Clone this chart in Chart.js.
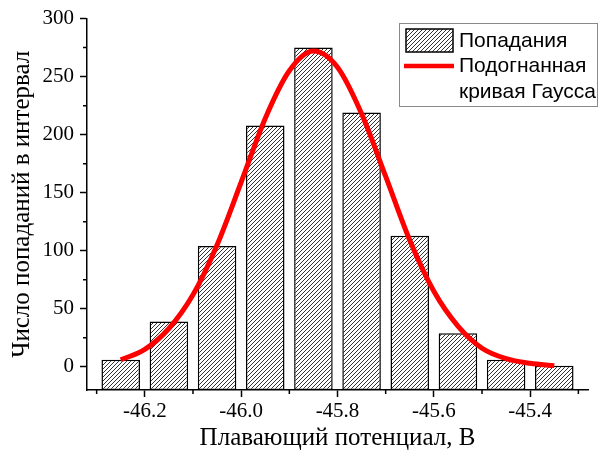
<!DOCTYPE html>
<html>
<head>
<meta charset="utf-8">
<script src="https://cdn.jsdelivr.net/npm/chart.js@4.4.1/dist/chart.umd.min.js"></script>
<style>
    body { margin: 0; background: #fff; }
    #wrap { width: 599px; height: 454px; }
</style>
</head>
<body>
<div id="wrap"><canvas id="histChart" width="599" height="454"></canvas></div>
<script>
// bin centres, В
const binCenters = [-46.25, -46.15, -46.05, -45.95, -45.85, -45.75, -45.65, -45.55, -45.45, -45.35];
// hits per bin
const counts = [6, 39, 104, 208, 275, 219, 113, 29, 6, 1];

// fitted gauss curve
const fitX = [-46.25, -46.20, -46.15, -46.10, -46.05, -46.00, -45.95, -45.90, -45.85, -45.80,
              -45.75, -45.70, -45.65, -45.60, -45.55, -45.50, -45.45, -45.40, -45.35];
const fitY = [6, 15, 33, 62, 105, 159, 214, 255, 272, 258, 218, 164, 109, 65, 35, 16, 7, 3, 1];

const legendLabels = ["Попадания", "Подогнанная", "кривая Гаусса"];
const xTitle = "Плавающий потенциал, В";
const yTitle = "Число попаданий в интервал";

const xMin = -46.32, xMax = -45.28, xStep = 0.2;
const yMin = -20, yMax = 300, yStep = 50;

function makeHatch() {
    const s = 4;
    const c = document.createElement('canvas');
    c.width = s; c.height = s;
    const g = c.getContext('2d');
    g.fillStyle = '#fff';
    g.fillRect(0, 0, s, s);
    g.strokeStyle = '#333';
    g.lineWidth = 1;
    g.beginPath();
    g.moveTo(0, s); g.lineTo(s, 0);
    g.moveTo(-1, 1); g.lineTo(1, -1);
    g.moveTo(s - 1, s + 1); g.lineTo(s + 1, s - 1);
    g.stroke();
    return g.createPattern(c, 'repeat');
}
const hatch = makeHatch();

// minor ticks + the boxed legend
const extras = {
    id: 'extras',
    afterDraw(chart) {
        const ctx = chart.ctx;
        const xs = chart.scales.x, ys = chart.scales.y;
        ctx.save();
        ctx.strokeStyle = '#000';
        ctx.lineWidth = 1.5;
        ctx.beginPath();
        for (let v = xs.ticks[0].value - xStep / 2; v <= xMax; v += xStep) {
            if (v < xMin) continue;
            const px = xs.getPixelForValue(v);
            ctx.moveTo(px, xs.top);
            ctx.lineTo(px, xs.top + 4);
        }
        for (let v = ys.ticks[0].value + yStep / 2; v <= yMax; v += yStep) {
            const py = ys.getPixelForValue(v);
            ctx.moveTo(ys.right, py);
            ctx.lineTo(ys.right - 4, py);
        }
        ctx.stroke();

        // legend
        ctx.strokeStyle = '#8a8a8a';
        ctx.lineWidth = 1;
        ctx.strokeRect(399.5, 23.5, 198, 83);
        ctx.fillStyle = hatch;
        ctx.fillRect(406, 29, 47, 23);
        ctx.strokeStyle = '#000';
        ctx.lineWidth = 1.5;
        ctx.strokeRect(406, 29, 47, 23);
        ctx.strokeStyle = '#ff0000';
        ctx.lineWidth = 4.5;
        ctx.beginPath();
        ctx.moveTo(404, 66);
        ctx.lineTo(454, 66);
        ctx.stroke();
        ctx.fillStyle = '#000';
        ctx.font = '21px "Liberation Sans", Arial, sans-serif';
        ctx.textBaseline = 'middle';
        ctx.fillText(legendLabels[0], 459, 41);
        ctx.fillText(legendLabels[1], 459, 66);
        ctx.fillText(legendLabels[2], 459, 92);
        ctx.restore();
    }
};

const serif = '"Liberation Serif", "Times New Roman", serif';

new Chart(document.getElementById('histChart'), {
    data: {
        datasets: [{
            type: 'line',
            data: fitX.map((x, i) => ({ x: x, y: fitY[i] })),
            borderColor: '#ff0000',
            borderWidth: 5,
            pointRadius: 0,
            cubicInterpolationMode: 'monotone',
            order: 0
        }, {
            type: 'bar',
            data: binCenters.map((x, i) => ({ x: x, y: counts[i] })),
            backgroundColor: hatch,
            borderColor: '#000',
            borderWidth: 1.5,
            borderSkipped: false,
            base: yMin,
            categoryPercentage: 1,
            barPercentage: 0.8,
            order: 1
        }]
    },
    options: {
        responsive: false,
        animation: false,
        layout: { padding: { top: 15, right: 11, left: 0, bottom: 0 } },
        plugins: {
            legend: { display: false },
            tooltip: { enabled: false }
        },
        scales: {
            x: {
                type: 'linear',
                offset: false,
                min: xMin,
                max: xMax,
                afterFit: s => { s.height = 64; },
                ticks: {
                    stepSize: xStep,
                    includeBounds: false,
                    padding: 2,
                    maxRotation: 0,
                    color: '#000',
                    font: { family: serif, size: 21 },
                    callback: v => v.toFixed(1)
                },
                grid: { drawOnChartArea: false, offset: false, tickLength: 7, tickWidth: 1.5, tickColor: '#000' },
                border: { color: '#000', width: 1.5 },
                title: {
                    display: true,
                    text: xTitle,
                    color: '#000',
                    font: { family: serif, size: 25 },
                    padding: { top: 0, bottom: 1 }
                }
            },
            y: {
                min: yMin,
                max: yMax,
                afterFit: s => { s.width = 87; },
                afterBuildTicks: s => { s.ticks = s.ticks.filter(t => t.value >= 0); },
                ticks: {
                    stepSize: yStep,
                    includeBounds: false,
                    padding: 6,
                    color: '#000',
                    font: { family: serif, size: 21 }
                },
                grid: { drawOnChartArea: false, tickLength: 7, tickWidth: 1.5, tickColor: '#000' },
                border: { color: '#000', width: 1.5 },
                title: {
                    display: true,
                    text: yTitle,
                    color: '#000',
                    font: { family: serif, size: 25 },
                    padding: { top: 7, bottom: 0 }
                }
            }
        }
    },
    plugins: [extras]
});
</script>
</body>
</html>
